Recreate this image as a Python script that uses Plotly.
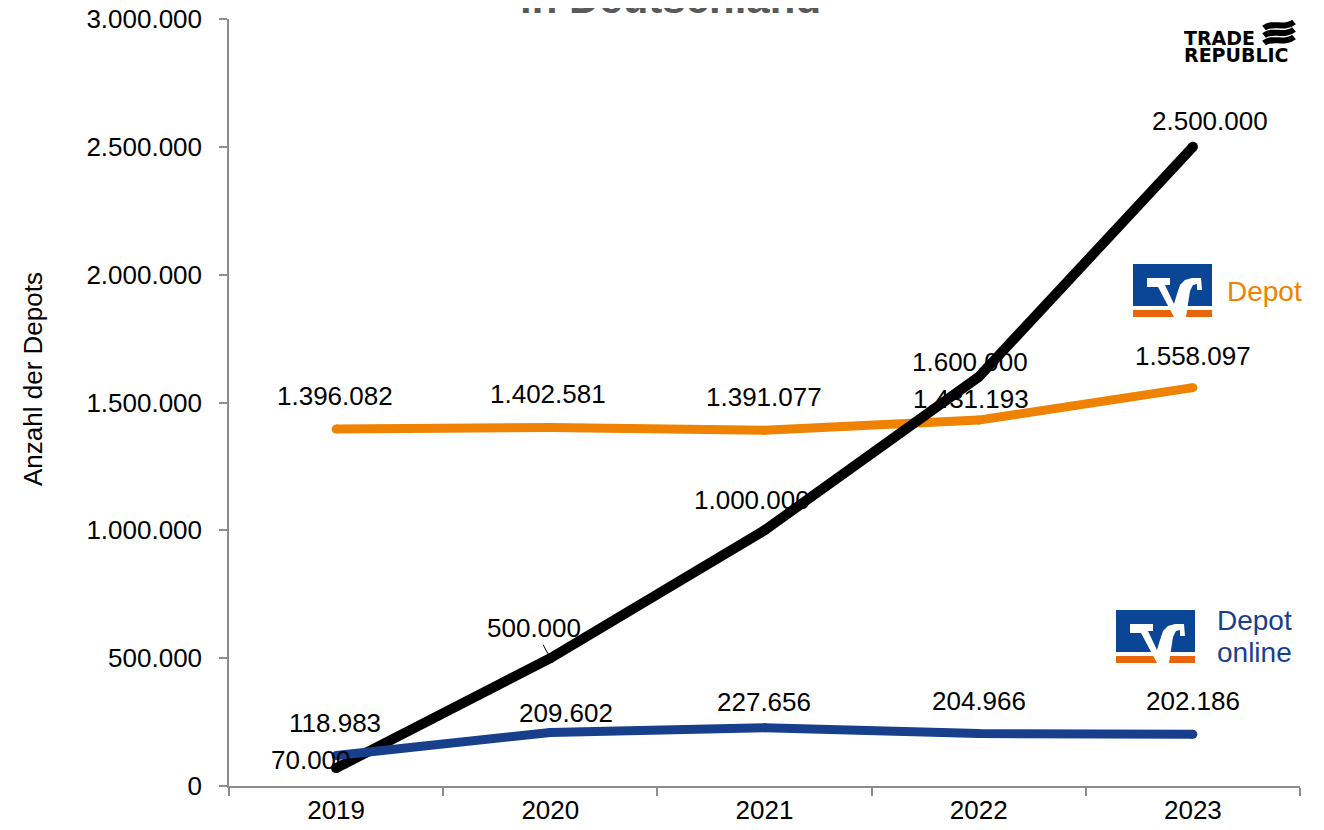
import plotly.graph_objects as go

# ---------------- data ----------------
years = ["2019", "2020", "2021", "2022", "2023"]
trade_republic = [70000, 500000, 1000000, 1600000, 2500000]
vr_depot = [1396082, 1402581, 1391077, 1431193, 1558097]
vr_depot_online = [118983, 209602, 227656, 204966, 202186]
y_ticks = [0, 500000, 1000000, 1500000, 2000000, 2500000, 3000000]

title_text = "in Deutschland"
y_title = "Anzahl der Depots"

# label offsets (px; dx right, dy up)
tr_off = [(-25, 8), (-16, 30), (-13, 30), (-9, 15), (17, 26)]
dep_off = [(-1, 33), (-2, 33), (-1, 33), (-8, 21), (0, 32)]
onl_off = [(-1, 33), (16, 19), (-1, 26), (0, 33), (0, 33)]

BLACK = "#000000"
ORANGE = "#EF8200"
BLUE = "#183F8C"
VB_BLUE = "#0A4596"
VB_ORANGE = "#E8650C"
AXIS = "#8C8C8C"
FONT = "Liberation Sans, Arial, sans-serif"

# page is offset by the default 8px body margin
OFF = 8
W, H = 1324, 830
PL, PR, PT, PB = 229, 1300, 19, 786


def px(x):
    return (x - PL) / (PR - PL)


def py(y):
    return (PB - y) / (PB - PT)


def de(v):
    return f"{v:,}".replace(",", ".")


fig = go.Figure()
for vals, col, wd in [(vr_depot, ORANGE, 9), (trade_republic, BLACK, 10), (vr_depot_online, BLUE, 9)]:
    fig.add_trace(go.Scatter(
        x=years, y=vals, mode="lines+markers",
        line=dict(color=col, width=wd),
        marker=dict(size=wd, color=col),
        hoverinfo="skip", showlegend=False,
    ))

annotations = []
for name, vals, offs in [("dep", vr_depot, dep_off), ("tr", trade_republic, tr_off),
                         ("onl", vr_depot_online, onl_off)]:
    for i, v in enumerate(vals):
        dx, dy = offs[i]
        if name == "tr" and i == 1:
            annotations.append(dict(
                x=i, y=v, xref="x", yref="y", text=de(v),
                showarrow=True, arrowhead=0, arrowwidth=1, arrowcolor=BLACK,
                ax=dx, ay=-dy, standoff=5,
                font=dict(family=FONT, size=26, color=BLACK),
            ))
        else:
            annotations.append(dict(
                x=i, y=v, xref="x", yref="y", text=de(v), showarrow=False,
                xshift=dx, yshift=dy,
                font=dict(family=FONT, size=26, color=BLACK),
            ))

# title (partly cut off at the top)
annotations.append(dict(
    x=px(670), y=py(-2), xref="paper", yref="paper", text="<b>" + title_text + "</b>",
    showarrow=False, xanchor="center", yanchor="middle",
    font=dict(family=FONT, size=42, color="#595959"),
))
# y axis title
annotations.append(dict(
    x=px(33), y=py(379), xref="paper", yref="paper", text=y_title, textangle=-90,
    showarrow=False, xanchor="center", yanchor="middle",
    font=dict(family=FONT, size=26, color=BLACK),
))
# series labels next to logos
annotations.append(dict(
    x=px(1225), y=py(291), xref="paper", yref="paper", text="Depot",
    showarrow=False, xanchor="left", yanchor="middle",
    font=dict(family=FONT, size=28, color=ORANGE),
))
for txt, yy in [("Depot", 620), ("online", 652)]:
    annotations.append(dict(
        x=px(1215), y=py(yy), xref="paper", yref="paper", text=txt, height=30,
        showarrow=False, xanchor="left", yanchor="middle", align="left",
        font=dict(family=FONT, size=28, color=BLUE),
    ))
# Trade Republic wordmark
for txt, yy in [("<b>TRADE</b>", 38), ("<b>REPUBLIC</b>", 55)]:
    annotations.append(dict(
        x=px(1182), y=py(yy), xref="paper", yref="paper", text=txt, height=16,
        showarrow=False, xanchor="left", yanchor="middle",
        font=dict(family="DejaVu Sans, sans-serif", size=19, color=BLACK),
    ))

shapes = []


def path(points, close=True):
    s = "M " + " L ".join(f"{px(x):.5f},{py(y):.5f}" for x, y in points)
    return s + (" Z" if close else "")


def vb_logo(ox, oy):
    w = 79
    shapes.append(dict(type="rect", xref="paper", yref="paper",
                       x0=px(ox), x1=px(ox + w), y0=py(oy + 42), y1=py(oy),
                       fillcolor=VB_BLUE, line=dict(width=0)))
    shapes.append(dict(type="rect", xref="paper", yref="paper",
                       x0=px(ox), x1=px(ox + w), y0=py(oy + 53), y1=py(oy + 46),
                       fillcolor=VB_ORANGE, line=dict(width=0)))
    rel = [(14, 14), (37, 14), (37, 21), (32, 21), (41, 40), (44, 30), (47, 21),
           (52, 16), (59, 14), (68, 14), (69, 26), (64, 26), (64, 20), (60, 21),
           (57, 27), (53, 53), (41, 53), (25, 23), (14, 23)]
    shapes.append(dict(type="path", xref="paper", yref="paper",
                       path=path([(ox + a, oy + b) for a, b in rel]),
                       fillcolor="white", line=dict(width=0)))


vb_logo(1133, 264)
vb_logo(1116, 610)

# Trade Republic flag
for yy in [25, 32.5, 40]:
    x0, x1 = 1264, 1294
    p = (f"M {px(x0):.5f},{py(yy + 3):.5f} "
         f"C {px(1273):.5f},{py(yy - 4):.5f} {px(1284):.5f},{py(yy + 5):.5f} {px(x1):.5f},{py(yy - 3):.5f}")
    shapes.append(dict(type="path", xref="paper", yref="paper", path=p,
                       line=dict(color=BLACK, width=6)))

fig.update_layout(
    width=W - OFF, height=H - OFF,
    margin=dict(l=PL - OFF, r=W - PR, t=PT - OFF, b=H - PB, autoexpand=False),
    paper_bgcolor="white", plot_bgcolor="white",
    separators=",.",
    font=dict(family=FONT, size=26, color=BLACK),
    annotations=annotations, shapes=shapes,
    showlegend=False,
)
fig.update_xaxes(
    type="category", range=[-0.5, 4.5], automargin=False,
    showline=True, linecolor=AXIS, linewidth=1.5,
    ticks="outside", tickson="boundaries", ticklen=8, tickcolor=AXIS, tickwidth=1.5,
    showgrid=False, zeroline=False,
    tickfont=dict(family=FONT, size=26, color=BLACK),
)
fig.update_yaxes(
    range=[0, 3000000], tickvals=y_ticks, tickformat=",d", automargin=False,
    showline=True, linecolor=AXIS, linewidth=1.5,
    ticks="outside", ticklen=8, tickcolor=AXIS, tickwidth=1.5,
    showgrid=False, zeroline=False, ticklabelstandoff=12, ticklabeloverflow="allow",
    tickfont=dict(family=FONT, size=26, color=BLACK),
)

fig.write_html("out.html")
